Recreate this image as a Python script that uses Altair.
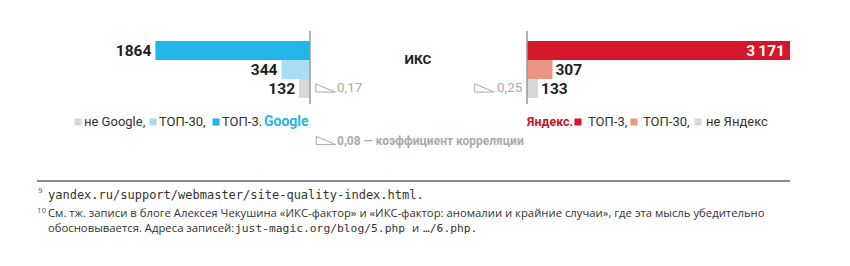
import altair as alt
import pandas as pd

# ---- data ----
categories = ["ТОП-3", "ТОП-30", "не в топе"]
google_values = [1864, 344, 132]
yandex_values = [3171, 307, 133]
google_labels = ["1864", "344", "132"]
yandex_labels = ["3\u2009171", "307", "133"]
google_colors = ["#22b5e9", "#a9dcf6", "#d8d8da"]
yandex_colors = ["#d4172b", "#eb9482", "#d8d8da"]
corr_google = "0,17"
corr_yandex = "0,25"
corr_both = "0,08 — коэффициент корреляции"

rows = list(range(len(categories)))
gdf = pd.DataFrame({"cat": categories, "value": google_values, "label": google_labels,
                    "row": rows, "row_end": [r + 1 for r in rows], "color": google_colors})
ydf = pd.DataFrame({"cat": categories, "value": yandex_values, "label": yandex_labels,
                    "row": rows, "row_end": [r + 1 for r in rows], "color": yandex_colors})

vmax = max(max(google_values), max(yandex_values))
SANS = "Roboto"
FOOT = "Open Sans"
MONO = "DejaVu Sans Mono"

gx = alt.Scale(domain=[0, vmax], range=[310, 47])
yx = alt.Scale(domain=[0, vmax], range=[527, 790])
ys = alt.Scale(domain=[0, len(categories)], range=[41, 98])

def Y():
    return alt.Y("row:Q", scale=ys, axis=None)

g_bars = alt.Chart(gdf).mark_bar(cornerRadius=0).encode(
    x=alt.X("value:Q", scale=gx, axis=None), x2=alt.datum(0),
    y=Y(), y2="row_end:Q",
    color=alt.Color("color:N", scale=None),
)
g_text = alt.Chart(gdf).mark_text(align="right", baseline="middle", dx=-4, dy=0.5,
                                  font=SANS, fontSize=15.5, fontWeight="bold", color="#1e1e1e").encode(
    x=alt.X("value:Q", scale=gx, axis=None),
    y=alt.Y("mid:Q", scale=ys, axis=None),
    text="label:N",
).transform_calculate(mid="datum.row + 0.5")
g_axis = alt.Chart(gdf.head(1)).mark_rule(color="#9a9a9a", strokeWidth=1.5).encode(
    x=alt.X("zero:Q", scale=gx, axis=None), y=alt.value(31), y2=alt.value(104)
).transform_calculate(zero="0")

y_bars = alt.Chart(ydf).mark_bar(cornerRadius=0).encode(
    x=alt.X("value:Q", scale=yx, axis=None), x2=alt.datum(0),
    y=Y(), y2="row_end:Q",
    color=alt.Color("color:N", scale=None),
)
y_text_in = alt.Chart(ydf).transform_filter("datum.row == 0").transform_calculate(
    mid="datum.row + 0.5").mark_text(align="right", baseline="middle", dx=-5, dy=0.5,
    font=SANS, fontSize=15.5, fontWeight="bold", color="white").encode(
    x=alt.X("value:Q", scale=yx, axis=None),
    y=alt.Y("mid:Q", scale=ys, axis=None),
    text="label:N",
)
y_text_out = alt.Chart(ydf).transform_filter("datum.row > 0").transform_calculate(
    mid="datum.row + 0.5").mark_text(align="left", baseline="middle", dx=3, dy=0.5,
    font=SANS, fontSize=15.5, fontWeight="bold", color="#1e1e1e").encode(
    x=alt.X("value:Q", scale=yx, axis=None),
    y=alt.Y("mid:Q", scale=ys, axis=None),
    text="label:N",
)
y_axis = alt.Chart(ydf.head(1)).mark_rule(color="#9a9a9a", strokeWidth=1.5).encode(
    x=alt.X("zero:Q", scale=yx, axis=None), y=alt.value(31), y2=alt.value(104)
).transform_calculate(zero="0")

one = alt.Data(values=[{}])

def txt(s, x, y, size=13, color="#333333", weight="normal", align="left", font=SANS):
    return alt.Chart(one).mark_text(align=align, baseline="middle", font=font, fontSize=size,
                                    fontWeight=weight, color=color).encode(
        x=alt.value(x), y=alt.value(y), text=alt.value(s))

def sq(x, y, color):
    return alt.Chart(one).mark_square(size=50, color=color, opacity=1).encode(
        x=alt.value(x), y=alt.value(y))

TRI = "M -1 -0.42 L -1 0.42 L 1 0.42 Z"
def tri(x, y):
    return alt.Chart(one).mark_point(shape=TRI, size=380, filled=False, stroke="#a9a9a9",
                                     strokeWidth=1, opacity=1).encode(
        x=alt.value(x), y=alt.value(y))

LEG = 13
annots = [
    txt("ИКС", 418, 60, size=13.5, color="#1e1e1e", weight="bold", align="center"),
    tri(325.5, 88), txt(corr_google, 337, 88, size=13.5, color="#aaaaaa"),
    tri(484.5, 88), txt(corr_yandex, 497, 88, size=13.5, color="#aaaaaa"),
    tri(326, 140.5), txt(corr_both, 337, 141, size=12, color="#aaaaaa", weight="bold"),
    # Google legend
    sq(78, 122, google_colors[2]), txt("не Google,", 84, 122, size=LEG),
    sq(153, 122, google_colors[1]), txt("ТОП-30,", 159, 122, size=LEG),
    sq(216, 122, google_colors[0]), txt("ТОП-3.", 222, 122, size=LEG),
    txt("Google", 264, 122, size=14, color="#2bb3e4", weight="bold"),
    # Yandex legend
    txt("Яндекс.", 527, 122, size=12.5, color="#c9162b", weight="bold"),
    sq(578, 122, yandex_colors[0]), txt("ТОП-3,", 588, 122, size=LEG),
    sq(634, 122, yandex_colors[1]), txt("ТОП-30,", 643, 122, size=LEG),
    sq(698, 122, yandex_colors[2]), txt("не Яндекс", 706, 122, size=LEG),
    # footnotes
    alt.Chart(one).mark_rule(color="#666666", strokeWidth=1.5).encode(
        x=alt.value(37), x2=alt.value(790), y=alt.value(181)),
    txt("9", 38, 191, size=8, color="#555555", font=FOOT),
    txt("yandex.ru/support/webmaster/site-quality-index.html.", 48, 195, size=12, color="#333333", font=MONO),
    txt("10", 37, 211, size=8, color="#555555", font=FOOT),
    txt("См. тж. записи в блоге Алексея Чекушина «ИКС-фактор» и «ИКС-фактор: аномалии и крайние случаи», где эта мысль убедительно",
        48, 214, size=11.3, color="#333333", font=FOOT),
    txt("обосновывается. Адреса записей:", 48, 229, size=11.3, color="#333333", font=FOOT),
    txt("just-magic.org/blog/5.php", 235, 229, size=11.3, color="#333333", font=MONO),
    txt("и", 412, 229, size=11.3, color="#333333", font=FOOT),
    txt("…/6.php.", 423, 229, size=11.3, color="#333333", font=MONO),
]

chart = alt.layer(g_bars, g_axis, g_text, y_bars, y_axis, y_text_in, y_text_out, *annots).resolve_scale(
    x="independent"
).properties(width=850, height=266, padding=0, autosize="none", background="white").configure_view(stroke=None)

chart.save("out.html", embed_options={"renderer": "svg", "actions": False})
